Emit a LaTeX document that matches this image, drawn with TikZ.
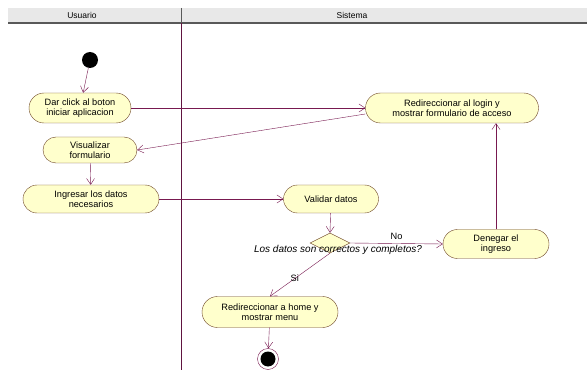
\documentclass[tikz,border=0pt]{standalone}
\usepackage{fontspec}
\setmainfont{Liberation Sans}
\usetikzlibrary{shapes.misc,shapes.geometric,arrows.meta}
\definecolor{flowline}{RGB}{120,25,80}
\definecolor{actfill}{RGB}{255,255,204}
\definecolor{actdraw}{RGB}{110,70,40}
\definecolor{headfill}{RGB}{232,232,232}
\begin{document}
\begin{tikzpicture}[x=1pt, y=-1pt,
    act/.style={rounded rectangle, draw=actdraw, fill=actfill, align=center,
        inner sep=1pt, font=\fontsize{9.2}{10.5}\selectfont},
    flow/.style={draw=flowline, -{Straight Barb[length=6pt,width=8pt]}},
    lbl/.style={font=\fontsize{9.2}{10.5}\selectfont}]
    \useasboundingbox[fill=white] (0,0) rectangle (587,385);

    % swimlanes
    \fill[headfill] (8,8) rectangle (587,22);
    \draw[gray!70!black, line width=1.2pt] (8,23) -- (587,23);
    \draw[gray!70!black] (181,8) -- (181,22);
    \draw[flowline!80!black] (181,23) -- (181,370);
    \node[lbl, font=\fontsize{8.5}{10}\selectfont] (usuario) at (82,15) {Usuario};
    \node[lbl, font=\fontsize{8.5}{10}\selectfont] (sistema) at (352,15) {Sistema};

    % nodes
    \node[circle, fill=black, minimum size=16pt, inner sep=0pt] (inicio) at (90,60) {};
    \node[act, minimum width=104pt, minimum height=30pt] (click) at (80,108) {Dar click al boton\\iniciar aplicacion};
    \node[act, minimum width=175pt, minimum height=30pt] (login) at (452,108) {Redireccionar al login y\\mostrar formulario de acceso};
    \node[act, minimum width=96pt, minimum height=26pt] (visual) at (90,150) {Visualizar\\formulario};
    \node[act, minimum width=138pt, minimum height=28pt] (ingresar) at (91,199) {Ingresar los datos\\necesarios};
    \node[act, minimum width=97pt, minimum height=28pt] (validar) at (331,199) {Validar datos};
    \node[diamond, draw=actdraw, fill=actfill, minimum width=40pt, minimum height=20pt,
        inner sep=0pt, aspect=2] (decision) at (330,243) {};
    \node[act, minimum width=108pt, minimum height=29pt] (denegar) at (496,244) {Denegar el\\ingreso};
    \node[act, minimum width=138pt, minimum height=31pt] (home) at (270,312) {Redireccionar a home y\\mostrar menu};
    \node[circle, draw=flowline, fill=white, minimum size=21pt, inner sep=0pt] (fin) at (268,359) {};
    \node[circle, fill=black, minimum size=15pt, inner sep=0pt] at (fin) {};
    \node[lbl, font=\fontsize{10}{11}\itshape] (pregunta) at (338,250) {Los datos son correctos y completos?};

    % connectors
    \draw[flow] (inicio) -- (click);
    \draw[flow] (click.east) -- (login.west);
    \draw[flow] ([yshift=-6pt]login.west) -- (visual.east);
    \draw[flow] (visual) -- (ingresar);
    \draw[flow] (ingresar.east) -- (validar.west);
    \draw[flow] (validar) -- (decision.north);
    \draw[flow] (decision.east) -- node[lbl, above] {No} (denegar.west);
    \draw[flow] (denegar.north) -- (login.south -| denegar.north);
    \draw[flow] (decision.south) -- node[lbl, pos=0.57, xshift=-1pt] {Si} (home.north);
    \draw[flow] (home) -- (fin);
\end{tikzpicture}
\end{document}
